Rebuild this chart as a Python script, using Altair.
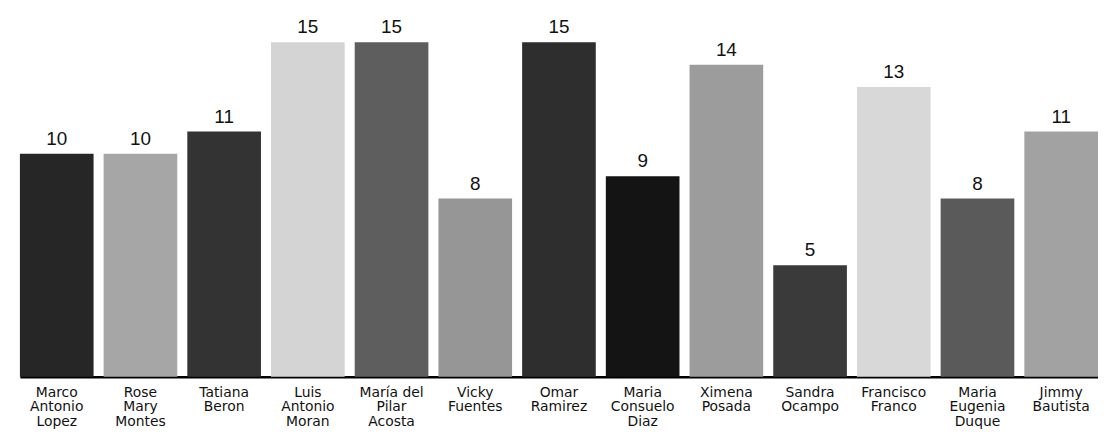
import altair as alt
import pandas as pd

names = [
    "Marco|Antonio|Lopez", "Rose|Mary|Montes", "Tatiana|Beron", "Luis|Antonio|Moran",
    "María del|Pilar|Acosta", "Vicky|Fuentes", "Omar|Ramirez", "Maria|Consuelo|Diaz",
    "Ximena|Posada", "Sandra|Ocampo", "Francisco|Franco", "Maria|Eugenia|Duque",
    "Jimmy|Bautista",
]
values = [10, 10, 11, 15, 15, 8, 15, 9, 14, 5, 13, 8, 11]
colors = [
    "#262626", "#a6a6a6", "#333333", "#d4d4d4", "#5e5e5e", "#969696", "#2e2e2e",
    "#141414", "#9c9c9c", "#3a3a3a", "#d8d8d8", "#5a5a5a", "#a2a2a2",
]

df = pd.DataFrame({"name": names, "value": values, "color": colors})

x = alt.X(
    "name:N",
    sort=names,
    scale=alt.Scale(range=[12, 1098], paddingInner=0.12, paddingOuter=0),
    axis=alt.Axis(
        title=None,
        labelExpr="split(datum.value, '|')",
        labelAngle=0,
        labelFont="DejaVu Sans",
        labelFontSize=14,
        labelColor="#111111",
        labelLineHeight=14.3,
        labelPadding=9,
        labelBaseline="top",
        ticks=False,
        domainColor="#000000",
        domainWidth=2.5,
        grid=False,
    ),
)
y = alt.Y(
    "value:Q",
    scale=alt.Scale(domain=[0, 16.47], nice=False),
    axis=None,
)

base = alt.Chart(df)
bars = base.mark_bar().encode(
    x=x, y=y, color=alt.Color("color:N", scale=None)
)
labels = base.mark_text(
    dy=-5, baseline="bottom", font="Liberation Sans", fontSize=19, color="#111111"
).encode(x=x, y=y, text="value:Q")

chart = (
    (bars + labels)
    .properties(
        width=1098,
        height=370,
        padding={"left": 0, "top": 0, "right": 0, "bottom": 56},
        autosize=alt.AutoSizeParams(type="none"),
    )
    .configure(background="#ffffff")
    .configure_view(stroke=None)
)

chart.save("out.html", embed_options={"renderer": "svg", "actions": False})
